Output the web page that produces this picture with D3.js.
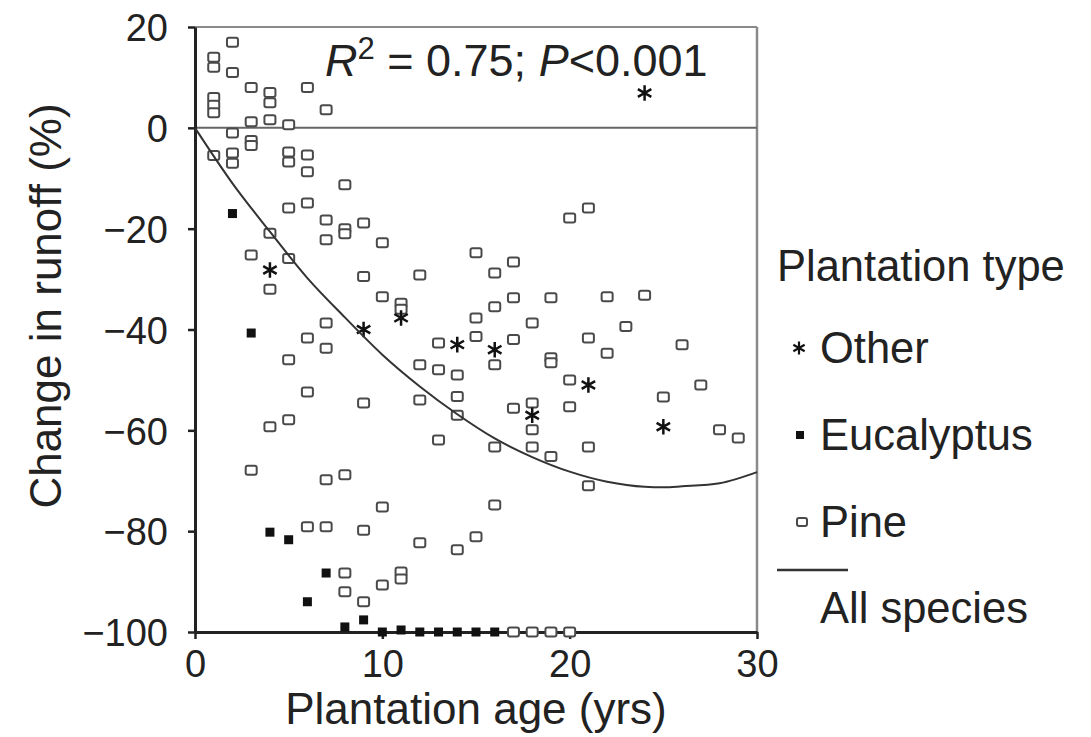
<!DOCTYPE html>
<html><head><meta charset="utf-8">
<script src="https://cdn.jsdelivr.net/npm/d3@7/dist/d3.min.js"></script>
<style>
body{margin:0;background:#fff;}
svg{display:block;font-family:"Liberation Sans",Arial,Helvetica,sans-serif;}
</style></head>
<body>
<svg id="chart" width="1091" height="737"></svg>
<script>
// ---- data ----
const pine = [
 [1,14],[1,12],[2,17],[2,11],[1,6],[1,4.5],[1,3],[3,8],[4,7],[4,5],[4,1.6],[3,1.2],[6,8],[7,3.6],[5,0.6],
 [2,-1],[3,-2.5],[3,-3.5],[1,-5.5],[2,-5],[2,-7],[5,-4.8],[5,-6.8],[6,-5.4],[6,-8.7],[8,-11.3],[5,-15.9],[6,-14.9],
 [7,-18.3],[7,-22.2],[8,-20],[8,-21],[9,-18.9],[10,-22.8],[4,-20.9],[3,-25.2],[5,-25.9],[4,-32],[9,-29.5],[10,-33.5],
 [7,-38.7],[6,-41.7],[7,-43.7],[5,-46],[6,-52.4],[9,-54.6],
 [5,-57.9],[4,-59.3],[3,-67.9],[7,-69.8],[8,-68.8],[10,-75.2],[6,-79.1],[7,-79.1],[9,-79.8],[8,-88.3],[8,-92],[10,-90.7],[9,-94],
 [20,-17.9],[21,-15.9],[12,-29.2],[11,-34.8],[11,-36],[15,-24.8],[17,-26.6],[16,-28.8],[17,-33.7],[19,-33.7],[16,-35.5],
 [15,-37.7],[15,-41.4],[18,-38.7],[17,-42],[13,-42.7],[16,-47],[12,-47],[13,-48],[14,-49],[19,-45.6],[19,-46.6],[20,-50],
 [14,-53.3],[12,-54],[17,-55.6],[18,-54.6],[20,-55.3],
 [14,-57],[13,-61.9],[16,-63.3],[18,-59.9],[18,-63.3],[19,-65.2],[16,-74.8],[15,-81.1],[14,-83.7],[12,-82.3],[11,-88.1],[11,-89.5],
 [17,-100],[18,-100],[19,-100],[20,-100],
 [22,-33.5],[24,-33.2],[23,-39.4],[21,-41.7],[22,-44.7],[26,-43],[27,-51],[25,-53.4],[28,-59.9],[29,-61.5],[21,-63.3],[21,-71]
];
const eucalyptus = [
 [2,-17],[3,-40.7],[4,-80.2],[5,-81.7],[6,-94],[7,-88.3],[8,-99],[9,-97.6],[10,-100],[11,-99.6],
 [12,-100],[13,-100],[14,-100],[15,-100],[16,-100]
];
const other = [[4,-28.2],[9,-40],[11,-37.7],[14,-43],[16,-44],[18,-57],[21,-51],[25,-59.3],[24,6.9]];
// fitted curve (all species)
const fitX = [0,2,4,6,8,10,12,14,16,18,20,22,24,25,26,28,30];
const fitY = [0,-11,-20.6,-29.8,-37.6,-45,-51.3,-56.8,-61.6,-65.3,-68.2,-70.2,-71.2,-71.3,-71.1,-70.5,-68.3];
const xTicks = [0,10,20,30];
const yTicks = [20,0,-20,-40,-60,-80,-100];
const legendItems = ["Other","Eucalyptus","Pine"];

// ---- drawing ----
const svg = d3.select("#chart");
const TICK_FS = 38, TITLE_FS = 44, LEG_FS = 43.5, ANN_FS = 45;
const L = 195, R = 757, T = 27, B = 632;
const x = d3.scaleLinear().domain([0,30]).range([L,R]);
const y = d3.scaleLinear().domain([-100,20]).range([B,T]);
const ink = "#222";

// frame: top & right borders, zero line
svg.append("line").attr("x1",L).attr("x2",R).attr("y1",y(20)).attr("y2",y(20)).attr("stroke","#8a8a8a").attr("stroke-width",2);
svg.append("line").attr("x1",R).attr("x2",R).attr("y1",y(20)).attr("y2",y(-100)).attr("stroke","#8a8a8a").attr("stroke-width",2.5);
svg.append("line").attr("x1",L).attr("x2",R).attr("y1",y(0)).attr("y2",y(0)).attr("stroke","#666").attr("stroke-width",2);

// axes
const fmt = d => d < 0 ? "\u2212" + Math.abs(d) : String(d);
const xAxis = svg.append("g").attr("transform",`translate(0,${B})`)
  .call(d3.axisBottom(x).tickValues(xTicks).tickSize(7).tickSizeOuter(0).tickPadding(11).tickFormat(fmt));
const yAxis = svg.append("g").attr("transform",`translate(${L},0)`)
  .call(d3.axisLeft(y).tickValues(yTicks).tickSize(7).tickSizeOuter(0).tickPadding(20).tickFormat(fmt));
[xAxis,yAxis].forEach(g=>{
  g.select(".domain").attr("stroke",ink).attr("stroke-width",3);
  g.selectAll(".tick line").attr("stroke",ink).attr("stroke-width",2.5);
  g.selectAll(".tick text").attr("fill",ink).style("font-size",TICK_FS+"px").style("font-family","'Liberation Sans',Arial,sans-serif");
});
yAxis.selectAll(".tick text").attr("dy","0.36em");
xAxis.selectAll(".tick text").attr("dy","0.72em");

// axis titles
svg.append("text").attr("x",(L+R)/2).attr("y",724).attr("text-anchor","middle")
  .attr("fill",ink).style("font-size",TITLE_FS+"px").text("Plantation age (yrs)");
svg.append("text").attr("transform","translate(61,306) rotate(-90)").attr("text-anchor","middle")
  .attr("fill",ink).style("font-size",TITLE_FS+"px").text("Change in runoff (%)");

// annotation
const ann = svg.append("text").attr("x",325).attr("y",76).attr("fill",ink).style("font-size",ANN_FS+"px");
ann.append("tspan").style("font-style","italic").text("R");
ann.append("tspan").attr("dy",-17).style("font-size","31px").text("2");
ann.append("tspan").attr("dy",17).text(" = 0.75; ");
ann.append("tspan").style("font-style","italic").text("P");
ann.append("tspan").text("<0.001");

// markers
svg.append("g").selectAll("rect").data(pine).join("rect")
  .attr("x",d=>x(d[0])-5.5).attr("y",d=>y(d[1])-4.5).attr("width",11).attr("height",9).attr("rx",2)
  .attr("fill","#fff").attr("stroke","#4a4a4a").attr("stroke-width",2);
svg.append("g").selectAll("rect").data(eucalyptus).join("rect")
  .attr("x",d=>x(d[0])-4.5).attr("y",d=>y(d[1])-4.5).attr("width",9).attr("height",9)
  .attr("fill","#111");
const star = d3.symbol().type(d3.symbolAsterisk).size(170);
svg.append("g").selectAll("path").data(other).join("path")
  .attr("transform",d=>`translate(${x(d[0])},${y(d[1])})`).attr("d",star)
  .attr("fill","none").attr("stroke","#111").attr("stroke-width",2.5);

// fitted curve
svg.append("path").datum(d3.zip(fitX,fitY))
  .attr("d",d3.line().x(d=>x(d[0])).y(d=>y(d[1])).curve(d3.curveMonotoneX))
  .attr("fill","none").attr("stroke","#333").attr("stroke-width",2);

// legend
const lg = svg.append("g");
lg.append("text").attr("x",777).attr("y",281).attr("fill",ink).style("font-size",LEG_FS+"px").text("Plantation type");
const legY = [348,435,522];
legendItems.forEach((name,i)=>{
  const cy = legY[i];
  if(name==="Other"){
    lg.append("path").attr("transform",`translate(799,${cy})`).attr("d",d3.symbol().type(d3.symbolAsterisk).size(120))
      .attr("fill","none").attr("stroke","#111").attr("stroke-width",2.2);
  } else if(name==="Eucalyptus"){
    lg.append("rect").attr("x",796).attr("y",cy-4).attr("width",8).attr("height",8).attr("fill","#111");
  } else {
    lg.append("rect").attr("x",797).attr("y",cy-4).attr("width",10).attr("height",8).attr("rx",2)
      .attr("fill","#fff").attr("stroke","#4a4a4a").attr("stroke-width",2);
  }
  lg.append("text").attr("x",820).attr("y",cy+15).attr("fill",ink).style("font-size",LEG_FS+"px").text(name);
});
lg.append("line").attr("x1",777).attr("x2",848).attr("y1",570).attr("y2",570).attr("stroke","#333").attr("stroke-width",2.5);
lg.append("text").attr("x",820).attr("y",623).attr("fill",ink).style("font-size",LEG_FS+"px").text("All species");
</script>
</body></html>
